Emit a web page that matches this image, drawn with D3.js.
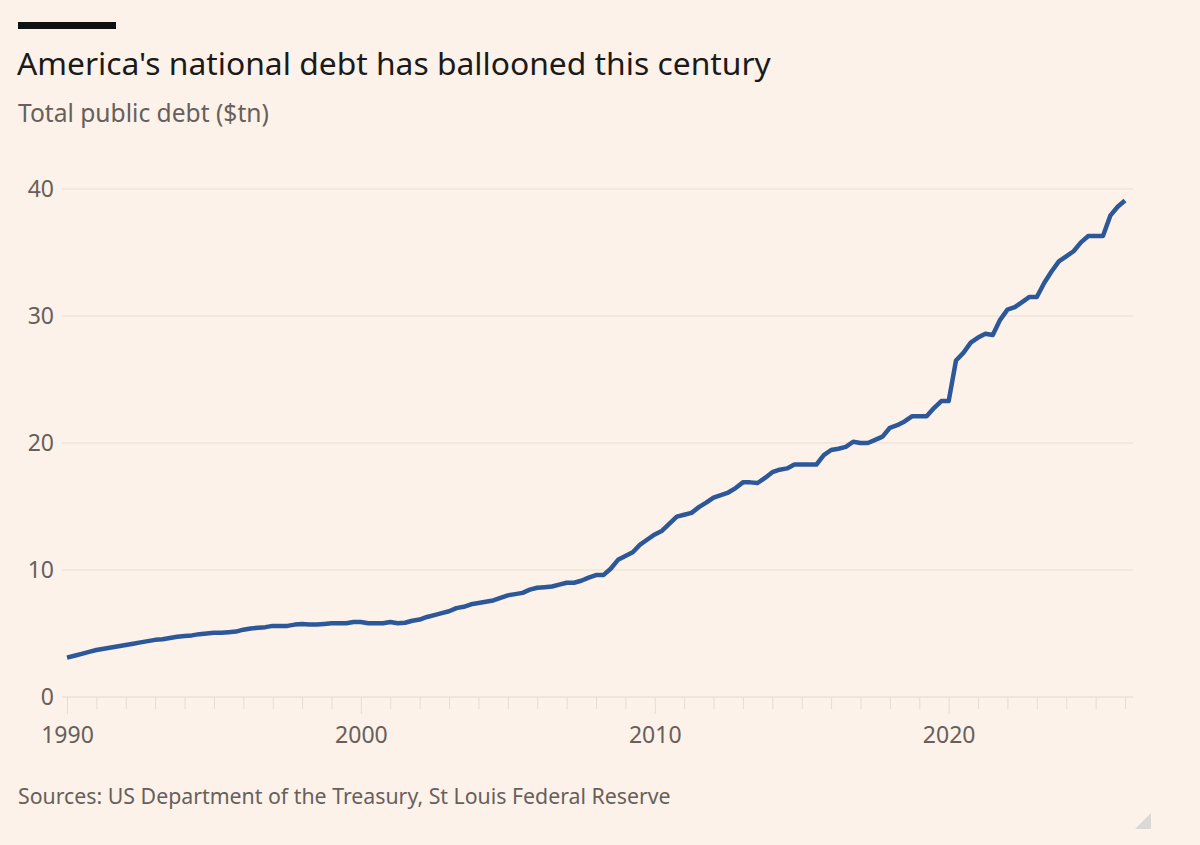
<!DOCTYPE html>
<html>
<head>
<meta charset="utf-8">
<script src="https://cdn.jsdelivr.net/npm/d3@7"></script>
<style>
  html, body { margin: 0; padding: 0; background: #fdf2e9; }
  svg { display: block; font-family: "Noto Sans", sans-serif; }
</style>
</head>
<body>
<svg width="1200" height="845"></svg>
<script>
// quarterly readings, first quarter of 1990 to start of 2026
let startYear = 1990;
let debt = [
    3.10, 3.25, 3.40, 3.55,   // 1990
    3.70, 3.80, 3.90, 4.00,   // 1991
    4.10, 4.20, 4.30, 4.40,   // 1992
    4.50, 4.55, 4.65, 4.75,   // 1993
    4.80, 4.85, 4.95, 5.00,   // 1994
    5.05, 5.05, 5.10, 5.15,   // 1995
    5.30, 5.40, 5.45, 5.50,   // 1996
    5.60, 5.60, 5.60, 5.70,   // 1997
    5.75, 5.70, 5.70, 5.75,   // 1998
    5.80, 5.80, 5.80, 5.90,   // 1999
    5.90, 5.80, 5.80, 5.80,   // 2000
    5.90, 5.80, 5.85, 6.00,   // 2001
    6.10, 6.30, 6.45, 6.60,   // 2002
    6.75, 7.00, 7.10, 7.30,   // 2003
    7.40, 7.50, 7.60, 7.80,   // 2004
    8.00, 8.10, 8.20, 8.45,   // 2005
    8.60, 8.65, 8.70, 8.85,   // 2006
    9.00, 9.00, 9.15, 9.40,   // 2007
    9.60, 9.60, 10.10, 10.80, // 2008
    11.10, 11.40, 12.00, 12.40, // 2009
    12.80, 13.10, 13.65, 14.20, // 2010
    14.35, 14.50, 14.95, 15.30, // 2011
    15.70, 15.90, 16.10, 16.45, // 2012
    16.90, 16.90, 16.85, 17.25, // 2013
    17.70, 17.90, 18.00, 18.30, // 2014
    18.30, 18.30, 18.30, 19.05, // 2015
    19.45, 19.55, 19.70, 20.10, // 2016
    20.00, 20.00, 20.25, 20.50, // 2017
    21.20, 21.40, 21.70, 22.10, // 2018
    22.10, 22.10, 22.75, 23.30, // 2019
    23.30, 26.50, 27.10, 27.90, // 2020
    28.30, 28.60, 28.50, 29.70, // 2021
    30.50, 30.70, 31.10, 31.50, // 2022
    31.50, 32.60, 33.50, 34.30, // 2023
    34.70, 35.10, 35.80, 36.30, // 2024
    36.30, 36.30, 37.90, 38.60, // 2025
    39.10                       // 2026
];
let yTicks = [0, 10, 20, 30, 40];
let xLabels = [1990, 2000, 2010, 2020];

let title = "America's national debt has ballooned this century";
let subtitle = "Total public debt ($tn)";
let source = "Sources: US Department of the Treasury, St Louis Federal Reserve";

let points = debt.map(function (d, i) {
    return { year: startYear + i / 4, value: d };
});

let svg = d3.select('svg');

let x = d3.scaleLinear().domain([1990, 2026]).range([67, 1125]);
let y = d3.scaleLinear().domain([0, 40]).range([697, 189]);

// header
svg.append('rect')
    .attr('x', 18).attr('y', 22).attr('width', 98).attr('height', 7)
    .attr('fill', '#111');

svg.append('text')
    .attr('x', 17).attr('y', 75)
    .attr('font-size', 31.8)
    .attr('fill', '#1a1a1a')
    .text(title);

svg.append('text')
    .attr('x', 18).attr('y', 122)
    .attr('font-size', 24.6)
    .attr('fill', '#66605c')
    .text(subtitle);

// gridlines and y labels
let grid = svg.append('g');
grid.selectAll('line')
    .data(yTicks.filter(function (d) { return d > 0; }))
    .join('line')
    .attr('x1', 62).attr('x2', 1133)
    .attr('y1', function (d) { return y(d); })
    .attr('y2', function (d) { return y(d); })
    .attr('stroke', '#f1e3d7')
    .attr('stroke-width', 1.5);

grid.selectAll('text')
    .data(yTicks)
    .join('text')
    .attr('x', 54)
    .attr('y', function (d) { return y(d); })
    .attr('dy', '0.35em')
    .attr('text-anchor', 'end')
    .attr('font-size', 23)
    .attr('fill', '#66605c')
    .text(function (d) { return d; });

// x axis
let xAxis = d3.axisBottom(x)
    .tickValues(d3.range(1990, 2027))
    .tickSize(12)
    .tickFormat(function (d) { return xLabels.includes(d) ? d : ""; });

let gx = svg.append('g')
    .attr('transform', 'translate(0,' + y(0) + ')')
    .call(xAxis);

gx.select('.domain').remove();
gx.insert('line', ':first-child')
    .attr('x1', 62).attr('x2', 1133)
    .attr('stroke', '#ecdfd3')
    .attr('stroke-width', 1.5);
gx.selectAll('.tick line')
    .attr('stroke', '#e8dbcf')
    .attr('y2', function (d) { return d % 10 === 0 ? 17 : 12; });
gx.selectAll('.tick text')
    .attr('y', 46)
    .attr('dy', 0)
    .attr('font-size', 23)
    .attr('font-family', '"Noto Sans", sans-serif')
    .attr('fill', '#66605c');

// the line
let line = d3.line()
    .x(function (d) { return x(d.year); })
    .y(function (d) { return y(d.value); });

svg.append('path')
    .datum(points)
    .attr('d', line)
    .attr('fill', 'none')
    .attr('stroke', '#2c5899')
    .attr('stroke-width', 4.5)
    .attr('stroke-linejoin', 'round');

// footer
svg.append('text')
    .attr('x', 18).attr('y', 804)
    .attr('font-size', 21.3)
    .attr('fill', '#66605c')
    .text(source);

svg.append('path')
    .attr('d', 'M1151,813 L1151,829 L1135,829 Z')
    .attr('fill', '#dcd8d6');
</script>
</body>
</html>
